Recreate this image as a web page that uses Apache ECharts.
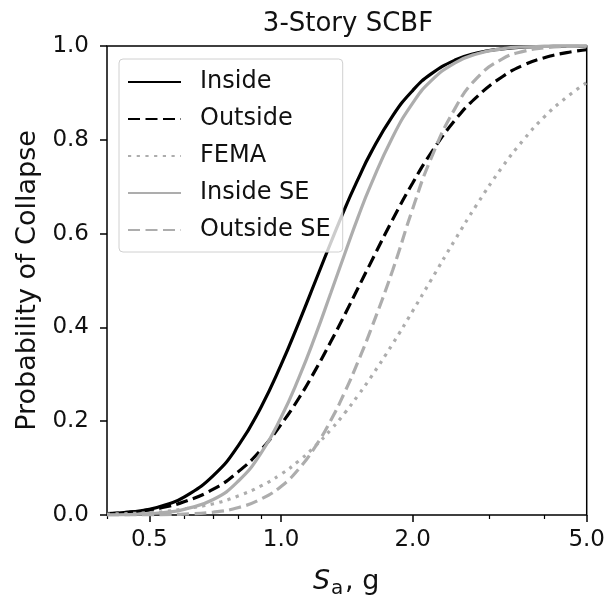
<!DOCTYPE html>
<html>
<head>
<meta charset="utf-8">
<script src="https://cdn.jsdelivr.net/npm/echarts@6/dist/echarts.min.js"></script>
<style>
html, body { margin: 0; padding: 0; background: #fff; }
#main { width: 608px; height: 602px; }
</style>
</head>
<body>
<div id="main"></div>
<script>
// spectral acceleration Sa (g) where the curves were read
var sa = [0.4, 0.45, 0.5, 0.55, 0.6, 0.7, 0.8, 0.9, 1.0, 1.1, 1.2, 1.3, 1.4, 1.5, 1.6,
          1.8, 2.0, 2.2, 2.5, 2.8, 3.2, 3.6, 4.0, 4.5, 5.0];

// probability of collapse
var inside    = [0.002, 0.006, 0.012, 0.023, 0.038, 0.084, 0.149, 0.230, 0.320, 0.412, 0.500, 0.581, 0.654, 0.716, 0.770,
                 0.851, 0.905, 0.940, 0.970, 0.985, 0.994, 0.998, 0.999, 1.000, 1.000];
var outside   = [0.003, 0.006, 0.011, 0.018, 0.028, 0.055, 0.093, 0.139, 0.193, 0.250, 0.310, 0.370, 0.428, 0.484, 0.536,
                 0.630, 0.708, 0.771, 0.842, 0.891, 0.934, 0.960, 0.975, 0.986, 0.992];
var fema      = [0.002, 0.003, 0.005, 0.008, 0.013, 0.024, 0.041, 0.062, 0.087, 0.116, 0.148, 0.182, 0.218, 0.255, 0.292,
                 0.365, 0.435, 0.500, 0.587, 0.661, 0.741, 0.802, 0.849, 0.891, 0.922];
var insideSE  = [0.000, 0.001, 0.003, 0.006, 0.012, 0.033, 0.073, 0.132, 0.208, 0.294, 0.384, 0.474, 0.558, 0.635, 0.701,
                 0.806, 0.878, 0.925, 0.964, 0.983, 0.994, 0.998, 0.999, 1.000, 1.000];
var outsideSE = [0.000, 0.000, 0.000, 0.001, 0.002, 0.006, 0.016, 0.034, 0.061, 0.099, 0.147, 0.202, 0.263, 0.327, 0.392,
                 0.522, 0.653, 0.759, 0.867, 0.931, 0.972, 0.989, 0.996, 0.999, 1.000];

var names = ['Inside', 'Outside', 'FEMA', 'Inside SE', 'Outside SE'];
var majorTicks = [0.5, 1, 2, 5];
var minorTicks = [0.4, 0.6, 0.7, 0.8, 0.9, 3, 4];

var font = 'DejaVu Sans';
var black = '#000000';
var grey = '#adadad';

function pairs(ys) {
    return sa.map(function (x, i) { return [x, ys[i]]; });
}

function line(name, ys, color, type) {
    return {
        name: name,
        type: 'line',
        data: pairs(ys),
        showSymbol: false,
        symbol: 'none',
        smooth: true,
        clip: true,
        lineStyle: { color: color, width: 3.2, type: type, cap: 'butt' },
        itemStyle: { color: color }
    };
}

var chart = echarts.init(document.getElementById('main'), null, { renderer: 'canvas' });

var option = {
    animation: false,
    backgroundColor: '#ffffff',
    textStyle: { fontFamily: font },
    grid: {
        left: 107, right: 18, top: 46, bottom: 87,
        show: true, borderColor: black, borderWidth: 1.5, backgroundColor: 'transparent'
    },
    legend: {
        orient: 'vertical',
        left: 119, top: 59,
        padding: [11, 12, 10, 8],
        itemWidth: 53,
        itemHeight: 14,
        itemGap: 13,
        backgroundColor: 'rgba(255,255,255,0.8)',
        borderColor: '#d0d0d0',
        borderWidth: 1,
        borderRadius: 4,
        data: names,
        itemStyle: { opacity: 0 },
        textStyle: { fontSize: 24, color: '#111', fontFamily: font, lineHeight: 24, padding: [0, 0, 0, 14] }
    },
    xAxis: [
        {
            type: 'log', logBase: 10, min: 0.4, max: 5,
            axisLine: { show: false },
            splitLine: { show: false },
            axisTick: { show: true, inside: false, length: 7, customValues: majorTicks,
                        lineStyle: { color: black, width: 1.5 } },
            axisLabel: { customValues: majorTicks, fontSize: 23, color: '#111', margin: 14,
                         formatter: function (v) { return (+v).toFixed(1); } }
        },
        {
            type: 'log', logBase: 10, min: 0.4, max: 5, position: 'bottom',
            axisLine: { show: false },
            splitLine: { show: false },
            axisTick: { show: true, inside: false, length: 4, customValues: minorTicks,
                        lineStyle: { color: black, width: 1.2 } },
            axisLabel: { show: false }
        }
    ],
    yAxis: {
        type: 'value', min: 0, max: 1, interval: 0.2,
        name: 'Probability of Collapse',
        nameLocation: 'middle',
        nameGap: 66,
        nameTextStyle: { fontSize: 27, color: '#111', fontFamily: font },
        axisLine: { show: false },
        splitLine: { show: false },
        axisTick: { show: true, inside: false, length: 7, lineStyle: { color: black, width: 1.5 } },
        axisLabel: { fontSize: 23, color: '#111', margin: 18,
                     formatter: function (v) { return v.toFixed(1); } }
    },
    graphic: [
        { type: 'text', x: 348, y: 24, style: { text: '3-Story SCBF', font: '26px "DejaVu Sans"',
          fill: '#111', textAlign: 'center', textVerticalAlign: 'middle' } },
        { type: 'text', x: 313, y: 582, style: { text: 'S', font: 'italic 27px "DejaVu Sans"',
          fill: '#111', textAlign: 'left', textVerticalAlign: 'middle' } },
        { type: 'text', x: 331, y: 589, style: { text: 'a', font: '20px "DejaVu Sans"',
          fill: '#111', textAlign: 'left', textVerticalAlign: 'middle' } },
        { type: 'text', x: 345, y: 582, style: { text: ', g', font: '27px "DejaVu Sans"',
          fill: '#111', textAlign: 'left', textVerticalAlign: 'middle' } }
    ],
    series: [
        line(names[0], inside, black, 'solid'),
        line(names[1], outside, black, [12, 5.5]),
        line(names[2], fema, grey, [3.2, 5.5]),
        line(names[3], insideSE, grey, 'solid'),
        line(names[4], outsideSE, grey, [12, 5.5])
    ]
};

chart.setOption(option);
</script>
</body>
</html>
